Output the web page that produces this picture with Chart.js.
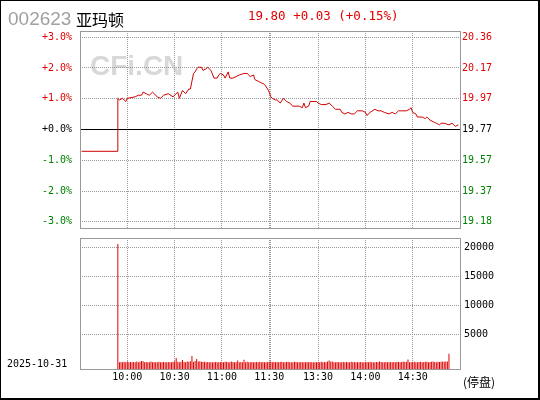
<!DOCTYPE html>
<html>
<head>
<meta charset="utf-8">
<script src="https://cdn.jsdelivr.net/npm/chart.js@4.4.1/dist/chart.umd.min.js"></script>
<style>
  html, body { margin: 0; padding: 0; background: #fff; }
  #wrap { position: relative; width: 540px; height: 400px; overflow: hidden; background: #fff; }
  #edge { position: absolute; left: 0; top: 0; width: 540px; height: 400px; box-sizing: border-box;
          border-left: 1px solid #000; border-top: 1px solid #000; border-right: 2px solid #000; border-bottom: 2px solid #000; }
  .txt { position: absolute; white-space: nowrap; line-height: 1; }
  canvas { position: absolute; left: 0; }
</style>
</head>
<body>
<div id="wrap">
  <canvas id="priceChart" width="540" height="214" style="top:20px"></canvas>
  <canvas id="volChart" width="540" height="164" style="top:234px"></canvas>
  <div class="txt" style="left:8px; top:8px; font:19px 'Liberation Sans', Arial, sans-serif; color:#a0a0a0;">002623</div>
  <div class="txt" style="left:76px; top:7px; font:16px 'Noto Sans CJK SC', sans-serif; color:#000;">亚玛顿</div>
  <div class="txt" style="left:248px; top:8px; font:12.5px 'DejaVu Sans Mono', monospace; color:#e00000;">19.80 +0.03 (+0.15%)</div>
  <div class="txt" style="left:7px; top:358px; font:10px 'DejaVu Sans Mono', monospace; color:#000;">2025-10-31</div>
  <div class="txt" style="left:463px; top:373px; font:12px 'Noto Sans CJK SC', sans-serif; color:#000;">(停盘)</div>
  <div id="edge"></div>
</div>
<script>
// previous close and axis settings
const prevClose = 19.77;
const pctTicks = [-3, -2, -1, 0, 1, 2, 3];
const pctRange = 3.2;

// minute index from 9:30 (0) to 15:00 (241), 13:00 = 121
const timeTicks = [30, 60, 90, 120, 121, 151, 181, 211];
const timeLabels = ['10:00', '10:30', '11:00', '11:30', '', '13:30', '14:00', '14:30'];

// price line
const priceIdx = [1, 24, 24, 25, 27, 29, 30, 35, 37, 39,
  40, 42, 44, 46, 49, 51, 53, 56, 59, 62,
  63, 65, 67, 69, 70, 71, 72, 73, 74, 75,
  77, 78, 80, 81, 83, 85, 87, 88, 89, 91,
  92, 94, 95, 97, 99, 101, 104, 106, 108, 110,
  111, 113, 115, 117, 119, 120, 121, 122, 124, 125,
  127, 129, 130, 131, 133, 135, 139, 141, 142, 143,
  145, 146, 150, 151, 153, 156, 158, 160, 162, 165,
  166, 168, 170, 172, 174, 176, 179, 181, 182, 184,
  187, 189, 191, 193, 196, 198, 200, 202, 204, 207,
  209, 210, 211, 213, 214, 217, 219, 220, 222, 224,
  226, 228, 229, 231, 234, 236, 238, 240];
const prices = [19.63, 19.63, 19.97, 19.96, 19.97, 19.95, 19.97, 19.98, 19.99, 19.99,
  20.01, 20.00, 19.99, 20.01, 19.98, 19.97, 19.99, 20.00, 19.98, 20.01,
  19.97, 20.02, 20.00, 20.03, 20.03, 20.08, 20.13, 20.14, 20.16, 20.17,
  20.17, 20.15, 20.16, 20.17, 20.15, 20.10, 20.10, 20.12, 20.13, 20.12,
  20.10, 20.14, 20.10, 20.10, 20.11, 20.12, 20.13, 20.13, 20.11, 20.12,
  20.09, 20.08, 20.07, 20.06, 20.03, 20.01, 19.98, 19.97, 19.96, 19.96,
  19.94, 19.97, 19.96, 19.95, 19.94, 19.92, 19.92, 19.91, 19.94, 19.91,
  19.92, 19.95, 19.95, 19.94, 19.93, 19.93, 19.94, 19.92, 19.90, 19.90,
  19.88, 19.87, 19.88, 19.87, 19.87, 19.89, 19.89, 19.88, 19.86, 19.88,
  19.90, 19.89, 19.89, 19.88, 19.87, 19.88, 19.87, 19.89, 19.89, 19.89,
  19.90, 19.91, 19.88, 19.87, 19.85, 19.85, 19.84, 19.85, 19.83, 19.82,
  19.81, 19.80, 19.81, 19.81, 19.80, 19.81, 19.79, 19.80];

// volume per minute, starting at minute index 24
const volStart = 24;
const volumes = [20550, 150, 200, 150, 250, 150, 300, 150, 200, 150,
  200, 150, 300, 150, 250, 400, 350, 150, 200, 150,
  150, 300, 150, 200, 150, 150, 250, 150, 150, 200,
  150, 150, 200, 150, 150, 250, 300, 900, 250, 150,
  250, 550, 200, 150, 300, 250, 350, 1240, 200, 400,
  720, 300, 350, 250, 200, 250, 150, 200, 150, 150,
  150, 150, 200, 150, 150, 200, 150, 150, 250, 200,
  150, 150, 300, 200, 150, 150, 450, 150, 200, 150,
  600, 150, 250, 150, 150, 200, 150, 150, 200, 150,
  250, 150, 200, 150, 150, 200, 250, 300, 150, 250,
  150, 200, 150, 200, 250, 150, 150, 200, 250, 150,
  150, 150, 250, 200, 150, 150, 200, 150, 150, 150,
  200, 150, 200, 150, 150, 150, 150, 200, 150, 250,
  150, 200, 150, 300, 450, 250, 300, 150, 150, 200,
  150, 150, 150, 200, 150, 200, 150, 150, 250, 150,
  200, 150, 150, 150, 200, 150, 150, 150, 200, 150,
  250, 150, 150, 150, 200, 150, 300, 200, 150, 150,
  200, 150, 150, 200, 150, 200, 150, 250, 200, 150,
  200, 300, 200, 250, 650, 150, 150, 200, 250, 150,
  150, 200, 250, 150, 200, 250, 250, 150, 200, 250,
  300, 200, 150, 250, 200, 250, 300, 250, 300, 300,
  1640];
const volTicks = [5000, 10000, 15000, 20000];
const volMin = -1000;
const volMax = 21600;

const monoFont = { family: 'DejaVu Sans Mono', size: 10 };
const gridColor = '#999';
const upColor = '#e00000';
const downColor = '#008000';

const priceLo = prevClose * (1 - pctRange / 100);
const priceHi = prevClose * (1 + pctRange / 100);
const priceTickValues = pctTicks.map(p => prevClose * (1 + p / 100));

function tickColor(v) {
  const d = v - prevClose;
  if (Math.abs(d) < 0.001) return '#000';
  return d > 0 ? upColor : downColor;
}

function fmtPct(v) {
  const p = Math.round((v / prevClose - 1) * 1000) / 10;
  return (p < 0 ? '-' : '+') + Math.abs(p).toFixed(1) + '%';
}

const framePlugin = {
  id: 'frame',
  afterDraw(chart) {
    const { ctx, chartArea: a } = chart;
    ctx.save();
    ctx.strokeStyle = gridColor;
    ctx.lineWidth = 1;
    ctx.strokeRect(Math.round(a.left) + 0.5, Math.round(a.top) + 0.5,
      Math.round(a.right - a.left), Math.round(a.bottom - a.top));
    ctx.restore();
  }
};

const watermarkPlugin = {
  id: 'watermark',
  beforeDraw(chart) {
    const ctx = chart.ctx;
    ctx.save();
    ctx.font = 'bold 28px "Liberation Sans", Arial, sans-serif';
    ctx.fillStyle = '#d8d8d8';
    ctx.textBaseline = 'alphabetic';
    ctx.fillText('CFi.CN', 90, 55);
    ctx.restore();
  }
};

function timeAxis(showLabels) {
  return {
    type: 'linear',
    min: 0,
    max: 241,
    offset: false,
    afterBuildTicks: s => { s.ticks = timeTicks.map(v => ({ value: v })); },
    ticks: {
      display: showLabels,
      autoSkip: false,
      maxRotation: 0,
      padding: 2,
      font: monoFont,
      color: '#000',
      callback: (v, i) => timeLabels[i]
    },
    grid: { color: gridColor, lineWidth: 1, drawTicks: false, offset: false },
    border: { display: false, dash: [1, 1] },
    afterFit: s => { s.height = showLabels ? 29 : 0; s.paddingLeft = 0; s.paddingRight = 0; }
  };
}

new Chart(document.getElementById('priceChart'), {
  type: 'line',
  data: {
    datasets: [
      {
        data: priceIdx.map((t, i) => ({ x: t, y: prices[i] })),
        borderColor: '#d00000',
        borderWidth: 1,
        pointRadius: 0,
        tension: 0,
        yAxisID: 'y'
      },
      {
        data: [{ x: 0, y: prevClose }, { x: 241, y: prevClose }],
        borderColor: '#000',
        borderWidth: 1,
        pointRadius: 0,
        yAxisID: 'y'
      }
    ]
  },
  options: {
    responsive: false,
    animation: false,
    events: [],
    layout: { padding: { top: 11, bottom: 6, left: 0, right: 0 } },
    plugins: { legend: { display: false }, tooltip: { enabled: false } },
    scales: {
      x: timeAxis(false),
      y: {
        position: 'left',
        min: priceLo,
        max: priceHi,
        afterBuildTicks: s => { s.ticks = priceTickValues.map(v => ({ value: v })); },
        ticks: { font: monoFont, padding: 8, color: c => tickColor(c.tick.value), callback: v => fmtPct(v) },
        grid: { color: gridColor, lineWidth: 1, drawTicks: false },
        border: { display: false, dash: [1, 1] },
        afterFit: s => { s.width = 80; s.paddingTop = 0; s.paddingBottom = 0; }
      },
      y2: {
        position: 'right',
        min: priceLo,
        max: priceHi,
        afterBuildTicks: s => { s.ticks = priceTickValues.map(v => ({ value: v })); },
        ticks: { font: monoFont, padding: 2, color: c => tickColor(c.tick.value), callback: v => v.toFixed(2) },
        grid: { display: false, drawTicks: false },
        border: { display: false },
        afterFit: s => { s.width = 80; s.paddingTop = 0; s.paddingBottom = 0; }
      }
    }
  },
  plugins: [watermarkPlugin, framePlugin]
});

new Chart(document.getElementById('volChart'), {
  type: 'bar',
  data: {
    datasets: [{
      data: volumes.map((v, i) => ({ x: volStart + i, y: v })),
      backgroundColor: upColor,
      borderWidth: 0,
      barThickness: 1,
      inflateAmount: 0,
      base: volMin
    }]
  },
  options: {
    responsive: false,
    animation: false,
    events: [],
    layout: { padding: { top: 4, bottom: 0, left: 80, right: 0 } },
    plugins: { legend: { display: false }, tooltip: { enabled: false } },
    scales: {
      x: timeAxis(true),
      y: {
        position: 'right',
        min: volMin,
        max: volMax,
        afterBuildTicks: s => { s.ticks = volTicks.map(v => ({ value: v })); },
        ticks: { font: monoFont, padding: 4, color: '#000', callback: v => String(v) },
        grid: { color: gridColor, lineWidth: 1, drawTicks: false },
        border: { display: false, dash: [1, 1] },
        afterFit: s => { s.width = 80; s.paddingTop = 0; s.paddingBottom = 0; }
      }
    }
  },
  plugins: [framePlugin]
});
</script>
</body>
</html>
